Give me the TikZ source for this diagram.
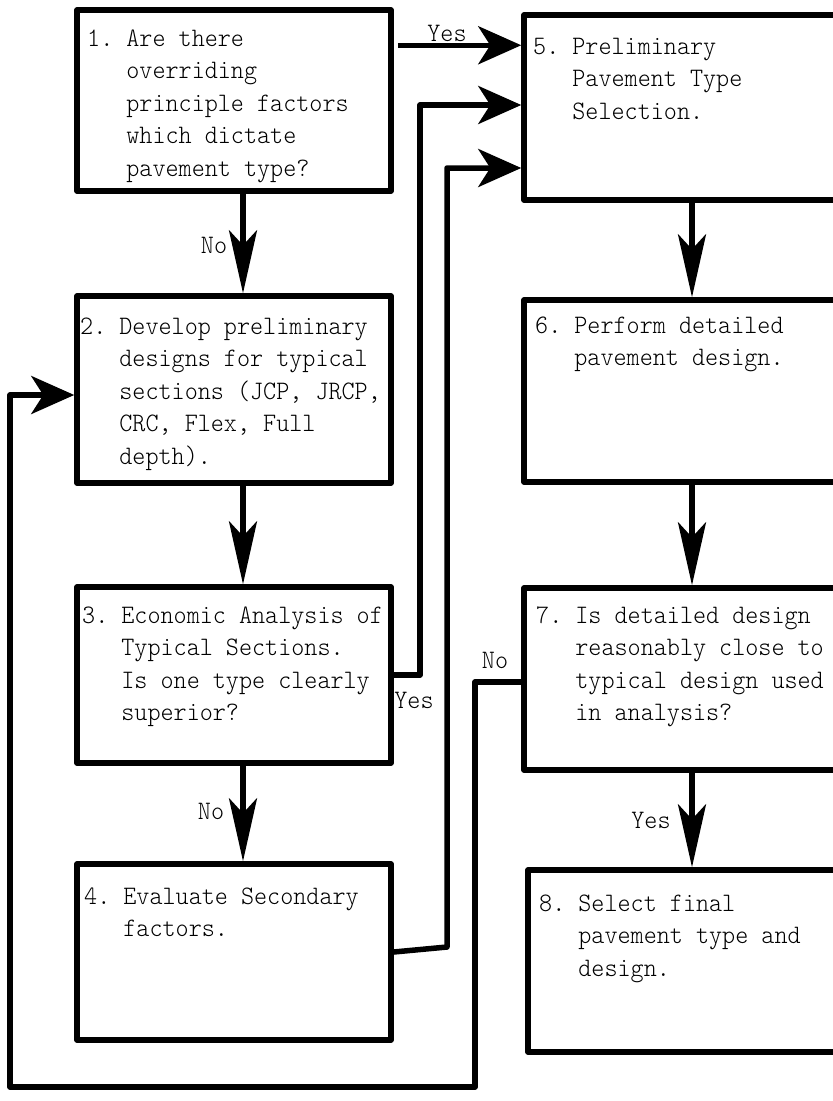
\documentclass[tikz,border=0pt]{standalone}
\usepackage{graphicx}
\usetikzlibrary{arrows.meta,calc}
\newcommand{\boxfont}{\fontsize{24.9}{30.4}\fontseries{l}\ttfamily}
\newcommand{\stepno}[1]{#1.\phantom{0}}
\newcommand{\tallt}[1]{\scalebox{1}[1.07]{\begin{tabular}[t]{@{}l@{}l@{}}#1\end{tabular}}}
\begin{document}
\begin{tikzpicture}[x=1pt,y=-1pt,
  box/.style={draw, rectangle, line width=5.5pt, line join=round, inner sep=0pt},
  txt/.style={anchor=base west, inner sep=0pt, font=\boxfont},
  lbl/.style={inner sep=0pt, font=\boxfont},
  conn/.style={line width=5.5pt, line join=round},
  varrow/.style={-{Stealth[length=63pt,width=28pt,inset=15pt]}},
  harrow/.style={-{Stealth[length=43pt,width=38pt,inset=12pt]}}]
\useasboundingbox (0,0) rectangle (833,1101);
\clip (0,0) rectangle (833,1101);
% boxes
\node[box, minimum width=314pt, minimum height=181pt] (b1) at (234,100.5) {};
\node[box, minimum width=314pt, minimum height=187pt] (b2) at (234,389.5) {};
\node[box, minimum width=314pt, minimum height=176pt] (b3) at (234,675) {};
\node[box, minimum width=314pt, minimum height=176pt] (b4) at (234,952) {};
\node[box, minimum width=336pt, minimum height=185pt] (b5) at (692,107.5) {};
\node[box, minimum width=336pt, minimum height=182pt] (b6) at (692,391) {};
\node[box, minimum width=336pt, minimum height=182pt] (b7) at (692,679) {};
\node[box, minimum width=332pt, minimum height=182pt] (b8) at (694,961) {};
% texts
\node[txt] (t1) at (87,46) {\tallt{\stepno{1}&Are there\\&overriding\\&principle factors\\&which dictate\\&pavement type?}};
\node[txt] (t2) at (80,334) {\tallt{\stepno{2}&Develop preliminary\\&designs for typical\\&sections (JCP, JRCP,\\&CRC, Flex, Full\\&depth).}};
\node[txt] (t3) at (82,623) {\tallt{\stepno{3}&Economic Analysis of\\&Typical Sections.\\&Is one type clearly\\&superior?}};
\node[txt] (t4) at (84,904) {\tallt{\stepno{4}&Evaluate Secondary\\&factors.}};
\node[txt] (t5) at (533,54) {\tallt{\stepno{5}&Preliminary\\&Pavement Type\\&Selection.}};
\node[txt] (t6) at (535,333) {\tallt{\stepno{6}&Perform detailed\\&pavement design.}};
\node[txt] (t7) at (536,623) {\tallt{\stepno{7}&Is detailed design\\&reasonably close to\\&typical design used\\&in analysis?}};
\node[txt] (t8) at (539,911) {\tallt{\stepno{8}&Select final\\&pavement type and\\&design.}};
% vertical connectors
\draw[conn, varrow] ([xshift=9pt]b1.south) -- ([xshift=9pt]b2.north);
\draw[conn, varrow] ([xshift=9pt]b2.south) -- ([xshift=9pt]b3.north);
\draw[conn, varrow] ([xshift=9pt]b3.south) -- ([xshift=9pt]b4.north);
\draw[conn, varrow] (b5.south) -- (b6.north);
\draw[conn, varrow] (b6.south) -- (b7.north);
\draw[conn, varrow] (b7.south) -- (b7.south |- b8.north);
% horizontal connectors into box 5
\coordinate (y1) at ($(b1.north east)+(4,38)$);
\draw[conn, harrow] (y1) -- (y1 -| b5.west);
\coordinate (k3) at (420,105);
\draw[conn, harrow] (b3.east) -| (k3) -- (k3 -| b5.west);
\coordinate (k4a) at (447,947);
\coordinate (k4) at (447,168);
\draw[conn, harrow] (b4.east) -- (k4a) -- (k4) -- (k4 -| b5.west);
% loop back from box 7 to box 2
\coordinate (n1) at (475,1087);
\coordinate (n2) at (10,395);
\draw[conn, harrow] ($(b7.west)+(0,3)$) -| (n1) -| (n2) -- (n2 -| b2.west);
% labels
\node[lbl] (l1) at (447,33) {\scalebox{1}[1.07]{Yes}};
\node[lbl] (l2) at (214,245) {\scalebox{1}[1.07]{No}};
\node[lbl] (l3) at (414,700) {\scalebox{1}[1.07]{Yes}};
\node[lbl] (l4) at (211,811) {\scalebox{1}[1.07]{No}};
\node[lbl] (l5) at (495,660) {\scalebox{1}[1.07]{No}};
\node[lbl] (l6) at (651,820) {\scalebox{1}[1.07]{Yes}};
\end{tikzpicture}
\end{document}
